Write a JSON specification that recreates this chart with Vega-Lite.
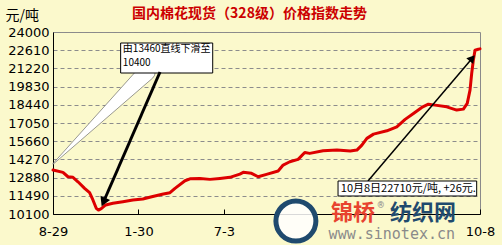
{
  "$schema": "https://vega.github.io/schema/vega-lite/v6.json",
  "width": 427,
  "height": 182,
  "autosize": {"type": "none"},
  "padding": {"left": 53, "top": 32, "right": 22, "bottom": 31},
  "background": "#FBF9CC",
  "config": {
    "view": {"stroke": "#8a8a8a", "strokeWidth": 1, "fill": "#FBF9CC"},
    "font": "DejaVu Sans",
    "axis": {"labelFont": "DejaVu Sans", "labelFontSize": 13, "labelColor": "#000"}
  },
  "title": {
    "text": "国内棉花现货（328级）价格指数走势",
    "font": "Noto Sans CJK SC",
    "fontSize": 14,
    "fontWeight": "bold",
    "color": "#CC0000",
    "anchor": "middle",
    "dx": -17,
    "dy": 22,
    "offset": 9
  },
  "datasets": {
    "price": [
      {"date": "2008-08-29", "index": 13460},
      {"date": "2008-09-16", "index": 13280},
      {"date": "2008-09-25", "index": 12945},
      {"date": "2008-10-04", "index": 12900},
      {"date": "2008-10-13", "index": 12560},
      {"date": "2008-10-25", "index": 12060},
      {"date": "2008-11-03", "index": 11725},
      {"date": "2008-11-09", "index": 11170},
      {"date": "2008-11-15", "index": 10535},
      {"date": "2008-11-19", "index": 10400},
      {"date": "2008-11-24", "index": 10505},
      {"date": "2008-12-02", "index": 10790},
      {"date": "2008-12-15", "index": 10915},
      {"date": "2009-01-02", "index": 11040},
      {"date": "2009-01-20", "index": 11170},
      {"date": "2009-02-07", "index": 11245},
      {"date": "2009-02-23", "index": 11420},
      {"date": "2009-03-16", "index": 11625},
      {"date": "2009-03-28", "index": 11725},
      {"date": "2009-04-06", "index": 12060},
      {"date": "2009-04-24", "index": 12640},
      {"date": "2009-05-03", "index": 12790},
      {"date": "2009-05-21", "index": 12820},
      {"date": "2009-06-08", "index": 12745},
      {"date": "2009-06-26", "index": 12820},
      {"date": "2009-07-14", "index": 12900},
      {"date": "2009-08-01", "index": 13150},
      {"date": "2009-08-07", "index": 13280},
      {"date": "2009-08-22", "index": 13205},
      {"date": "2009-09-03", "index": 12945},
      {"date": "2009-09-18", "index": 13130},
      {"date": "2009-10-09", "index": 13380},
      {"date": "2009-10-18", "index": 13840},
      {"date": "2009-10-30", "index": 14090},
      {"date": "2009-11-14", "index": 14270},
      {"date": "2009-11-26", "index": 14800},
      {"date": "2009-12-05", "index": 14730},
      {"date": "2009-12-29", "index": 14930},
      {"date": "2010-01-23", "index": 14980},
      {"date": "2010-02-16", "index": 14905},
      {"date": "2010-02-28", "index": 14980},
      {"date": "2010-03-09", "index": 15360},
      {"date": "2010-03-18", "index": 15875},
      {"date": "2010-03-30", "index": 16200},
      {"date": "2010-04-23", "index": 16455},
      {"date": "2010-05-11", "index": 16760},
      {"date": "2010-05-26", "index": 17325},
      {"date": "2010-06-10", "index": 17780},
      {"date": "2010-06-25", "index": 18240},
      {"date": "2010-07-07", "index": 18490},
      {"date": "2010-07-19", "index": 18415},
      {"date": "2010-08-09", "index": 18285},
      {"date": "2010-08-27", "index": 18035},
      {"date": "2010-09-08", "index": 18110},
      {"date": "2010-09-15", "index": 18545},
      {"date": "2010-09-20", "index": 19560},
      {"date": "2010-09-23", "index": 20830},
      {"date": "2010-09-26", "index": 21850},
      {"date": "2010-09-29", "index": 22610},
      {"date": "2010-10-05", "index": 22684},
      {"date": "2010-10-08", "index": 22710}
    ],
    "wedge": [
      {"date": "2008-08-29", "index": 13919, "w": 0.5},
      {"date": "2009-02-14", "index": 20945, "w": 17}
    ],
    "box1": [
      {"d1": "2008-12-29", "d2": "2009-06-13", "v1": 20868, "v2": 23159, "label": "由13460直线下滑至\n10400", "tdate": "2009-01-02", "tval": 23121}
    ],
    "arrow1": [
      {"d1": "2009-03-10", "v1": 20945, "d2": "2008-11-28", "v2": 11015, "angle": 203.6}
    ],
    "box2": [
      {"d1": "2010-01-25", "d2": "2010-10-02", "v1": 11475, "v2": 12620, "label": "10月8日22710元/吨, +26元.", "tdate": "2010-01-30", "tval": 12047}
    ],
    "arrow2": [
      {"d1": "2010-03-20", "v1": 12620, "d2": "2010-09-24", "v2": 22000, "angle": 40}
    ],
    "logo": [
      {"date": "2009-11-10", "val": 9565}
    ],
    "brand": [
      {"date": "2010-02-21", "val": 10176, "text": "锦桥", "part": "a"},
      {"date": "2010-06-27", "val": 10176, "text": "纺织网", "part": "b"}
    ],
    "site": [
      {"date": "2010-04-12", "val": 10787, "text": "®", "size": "s"},
      {"date": "2010-05-02", "val": 8573, "text": "www.sinotex.cn", "size": "l"}
    ]
  },
  "layer": [
    {
      "data": {"name": "price"},
      "mark": {"type": "line", "color": "#DD0000", "strokeWidth": 3, "strokeJoin": "round", "strokeCap": "round"},
      "encoding": {
        "x": {
          "field": "date", "type": "temporal",
          "scale": {"type": "utc", "domain": [{"year": 2008, "month": 8, "date": 29, "utc": true}, {"year": 2010, "month": 10, "date": 8, "utc": true}]},
          "axis": {
            "title": null,
            "format": "%-m-%-d",
            "values": [
              {"year": 2008, "month": 8, "date": 29, "utc": true},
              {"year": 2009, "month": 1, "date": 30, "utc": true},
              {"year": 2009, "month": 7, "date": 3, "utc": true},
              {"year": 2010, "month": 10, "date": 8, "utc": true}
            ],
            "tickCount": 10,
            "domainColor": "#000",
            "domainWidth": 1,
            "tickColor": "#000",
            "tickSize": -5,
            "labelPadding": 16,
            "labelFlush": false,
            "grid": false
          }
        },
        "y": {
          "field": "index", "type": "quantitative",
          "scale": {"domain": [10100, 24000], "nice": false, "zero": false},
          "axis": {
            "values": [10100, 11490, 12880, 14270, 15660, 17050, 18440, 19830, 21220, 22610, 24000],
            "tickCount": 20,
            "format": "d",
            "labelOverlap": false,
            "title": "元/吨",
            "titleAngle": 0,
            "titleX": -48,
            "titleY": -17,
            "titleAlign": "left",
            "titleBaseline": "middle",
            "titleFont": "Noto Sans CJK SC",
            "titleFontSize": 14,
            "titleFontWeight": "normal",
            "titleColor": "#000",
            "ticks": false,
            "labelPadding": 4,
            "domainColor": "#000",
            "grid": true,
            "gridColor": "#8c8c8c",
            "gridDash": [4, 3],
            "gridWidth": 1
          }
        }
      }
    },
    {
      "data": {"name": "wedge"},
      "mark": {"type": "trail", "color": "#FFFFFF", "stroke": "#555", "strokeWidth": 0.6},
      "encoding": {
        "x": {"field": "date", "type": "temporal"},
        "y": {"field": "index", "type": "quantitative"},
        "size": {"field": "w", "type": "quantitative", "scale": null, "legend": null}
      }
    },
    {
      "data": {"name": "box1"},
      "mark": {"type": "rect", "fill": "#FFFFFF", "stroke": "#000", "strokeWidth": 1},
      "encoding": {
        "x": {"field": "d1", "type": "temporal"},
        "x2": {"field": "d2"},
        "y": {"field": "v1", "type": "quantitative"},
        "y2": {"field": "v2"}
      }
    },
    {
      "data": {"name": "box1"},
      "mark": {"type": "text", "align": "left", "baseline": "top", "font": "Noto Sans CJK SC", "fontSize": 10, "lineBreak": "\n", "lineHeight": 14.5, "color": "#000"},
      "encoding": {
        "x": {"field": "tdate", "type": "temporal"},
        "y": {"field": "tval", "type": "quantitative"},
        "text": {"field": "label"}
      }
    },
    {
      "data": {"name": "arrow1"},
      "mark": {"type": "rule", "color": "#000", "strokeWidth": 3},
      "encoding": {
        "x": {"field": "d1", "type": "temporal"},
        "x2": {"field": "d2"},
        "y": {"field": "v1", "type": "quantitative"},
        "y2": {"field": "v2"}
      }
    },
    {
      "data": {"name": "arrow1"},
      "mark": {"type": "point", "shape": "triangle-up", "filled": true, "color": "#000", "size": 110, "opacity": 1},
      "encoding": {
        "x": {"field": "d2", "type": "temporal"},
        "y": {"field": "v2", "type": "quantitative"},
        "angle": {"field": "angle", "type": "quantitative", "scale": null}
      }
    },
    {
      "data": {"name": "arrow2"},
      "mark": {"type": "rule", "color": "#000", "strokeWidth": 1.5},
      "encoding": {
        "x": {"field": "d1", "type": "temporal"},
        "x2": {"field": "d2"},
        "y": {"field": "v1", "type": "quantitative"},
        "y2": {"field": "v2"}
      }
    },
    {
      "data": {"name": "arrow2"},
      "mark": {"type": "point", "shape": "triangle-up", "filled": true, "color": "#000", "size": 80, "opacity": 1},
      "encoding": {
        "x": {"field": "d2", "type": "temporal"},
        "y": {"field": "v2", "type": "quantitative"},
        "angle": {"field": "angle", "type": "quantitative", "scale": null}
      }
    },
    {
      "data": {"name": "box2"},
      "mark": {"type": "rect", "fill": "#FFFFFF", "stroke": "#000", "strokeWidth": 1},
      "encoding": {
        "x": {"field": "d1", "type": "temporal"},
        "x2": {"field": "d2"},
        "y": {"field": "v1", "type": "quantitative"},
        "y2": {"field": "v2"}
      }
    },
    {
      "data": {"name": "box2"},
      "mark": {"type": "text", "align": "left", "baseline": "middle", "font": "Noto Sans CJK SC", "fontSize": 11, "color": "#000"},
      "encoding": {
        "x": {"field": "tdate", "type": "temporal"},
        "y": {"field": "tval", "type": "quantitative"},
        "text": {"field": "label"}
      }
    },
    {
      "data": {"name": "logo"},
      "mark": {"type": "point", "shape": "circle", "size": 1600, "filled": false, "fill": "#FFFFFF", "fillOpacity": 0.85, "stroke": "#1F4A6E", "strokeWidth": 5, "opacity": 1},
      "encoding": {
        "x": {"field": "date", "type": "temporal"},
        "y": {"field": "val", "type": "quantitative"}
      }
    },
    {
      "data": {"name": "brand"},
      "mark": {"type": "text", "align": "center", "baseline": "middle", "font": "Noto Sans CJK SC", "fontSize": 22, "fontWeight": "bold"},
      "encoding": {
        "x": {"field": "date", "type": "temporal"},
        "y": {"field": "val", "type": "quantitative"},
        "text": {"field": "text"},
        "color": {"field": "part", "type": "nominal", "scale": {"domain": ["a", "b"], "range": ["#E8432F", "#1F4A6E"]}, "legend": null}
      }
    },
    {
      "data": {"name": "site"},
      "mark": {"type": "text", "align": "center", "baseline": "middle", "font": "DejaVu Sans Mono", "color": "#8a8a8a"},
      "encoding": {
        "x": {"field": "date", "type": "temporal"},
        "y": {"field": "val", "type": "quantitative"},
        "text": {"field": "text"},
        "size": {"field": "size", "type": "nominal", "scale": {"domain": ["s", "l"], "range": [10, 15]}, "legend": null}
      }
    }
  ]
}
